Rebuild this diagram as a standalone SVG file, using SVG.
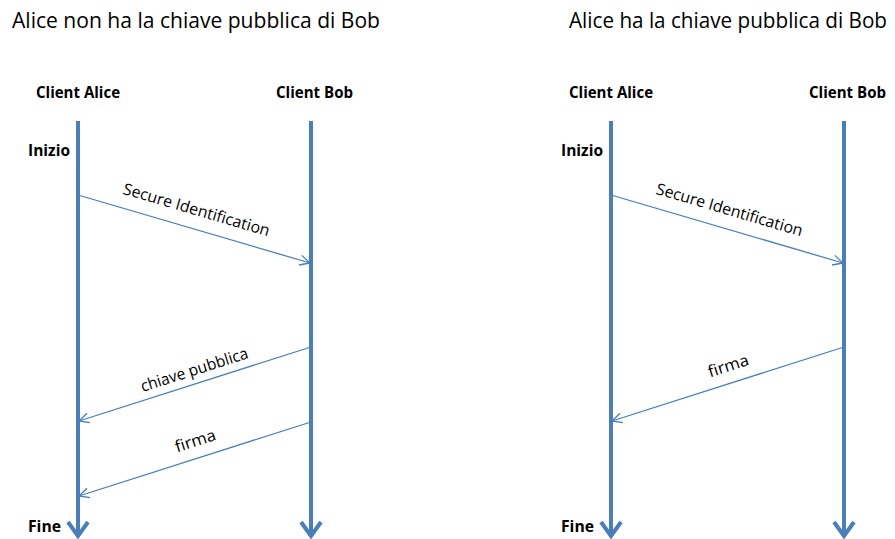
<svg xmlns="http://www.w3.org/2000/svg" width="895" height="539" viewBox="0 0 895 539">
<style>
.t{font-family:"Open Sans","Liberation Sans",sans-serif;fill:#000}
.title{font-size:21px}
.hd{font-size:16px;font-weight:bold}
.lbl{font-size:16px}
.life{stroke:#4a7ebb;stroke-width:4;fill:none}
.msg{stroke:#4a7ebb;stroke-width:1.3;fill:none;marker-end:url(#open)}
</style>
<defs>
<marker id="open" viewBox="0 0 12 12" refX="11" refY="6" markerWidth="12" markerHeight="12" markerUnits="userSpaceOnUse" orient="auto">
<path d="M1,1 L11,6 L1,11" fill="none" stroke="#4a7ebb" stroke-width="1.3"/>
</marker>
</defs>
<text class="t title" x="12" y="28" textLength="368" lengthAdjust="spacingAndGlyphs">Alice non ha la chiave pubblica di Bob</text>
<text class="t title" x="569" y="28" textLength="318" lengthAdjust="spacingAndGlyphs">Alice ha la chiave pubblica di Bob</text>
<g id="left-alice">
<text class="t hd" x="36" y="98" textLength="84" lengthAdjust="spacingAndGlyphs">Client Alice</text>
<line class="life" x1="78" y1="121" x2="78" y2="536"/>
<path class="life" d="M68,522 L78,536 L88,522"/>
</g>
<g id="left-bob">
<text class="t hd" x="276" y="98" textLength="77" lengthAdjust="spacingAndGlyphs">Client Bob</text>
<line class="life" x1="311" y1="121" x2="311" y2="536"/>
<path class="life" d="M301,522 L311,536 L321,522"/>
</g>
<text class="t hd" x="28" y="156" textLength="42" lengthAdjust="spacingAndGlyphs">Inizio</text>
<text class="t hd" x="28" y="532" textLength="33" lengthAdjust="spacingAndGlyphs">Fine</text>
<g id="right-alice">
<text class="t hd" x="569" y="98" textLength="84" lengthAdjust="spacingAndGlyphs">Client Alice</text>
<line class="life" x1="611" y1="121" x2="611" y2="536"/>
<path class="life" d="M601,522 L611,536 L621,522"/>
</g>
<g id="right-bob">
<text class="t hd" x="809" y="98" textLength="77" lengthAdjust="spacingAndGlyphs">Client Bob</text>
<line class="life" x1="844" y1="121" x2="844" y2="536"/>
<path class="life" d="M834,522 L844,536 L854,522"/>
</g>
<text class="t hd" x="561" y="156" textLength="42" lengthAdjust="spacingAndGlyphs">Inizio</text>
<text class="t hd" x="561" y="532" textLength="33" lengthAdjust="spacingAndGlyphs">Fine</text>
<g id="connectors">
<line class="msg" x1="78" y1="195" x2="310" y2="263"/>
<line class="msg" x1="311" y1="347" x2="79" y2="421"/>
<line class="msg" x1="311" y1="422" x2="79" y2="496"/>
<line class="msg" x1="611" y1="195" x2="843" y2="263"/>
<line class="msg" x1="844" y1="347" x2="612" y2="421"/>
</g>
<g class="t lbl">
<text text-anchor="middle" transform="translate(195,215) rotate(16.3)" textLength="152" lengthAdjust="spacingAndGlyphs">Secure Identification</text>
<text text-anchor="middle" transform="translate(196,375) rotate(-17.7)" textLength="112" lengthAdjust="spacingAndGlyphs">chiave pubblica</text>
<text text-anchor="middle" transform="translate(197,446) rotate(-17.7)" textLength="42" lengthAdjust="spacingAndGlyphs">firma</text>
<text text-anchor="middle" transform="translate(728,215) rotate(16.3)" textLength="152" lengthAdjust="spacingAndGlyphs">Secure Identification</text>
<text text-anchor="middle" transform="translate(730,371) rotate(-17.7)" textLength="42" lengthAdjust="spacingAndGlyphs">firma</text>
</g>
</svg>
